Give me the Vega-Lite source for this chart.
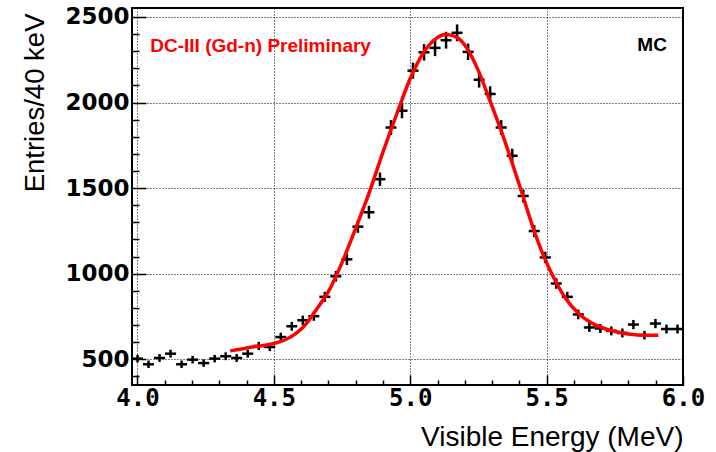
{
  "$schema": "https://vega.github.io/schema/vega-lite/v6.json",
  "width": 551,
  "height": 377,
  "autosize": "none",
  "padding": {"left": 132, "top": 8, "right": 33, "bottom": 67},
  "background": "white",
  "config": {
    "view": {"stroke": "black", "strokeWidth": 2},
    "axis": {
      "grid": true, "gridColor": "#000", "gridDash": [1, 2], "gridWidth": 1,
      "ticks": true, "tickColor": "black", "tickWidth": 1.5, "domain": false,
      "labelColor": "black", "labelFontWeight": "bold", "labelFlush": false, "labelOverlap": false,
      "titleFont": "Liberation Sans", "titleFontWeight": "normal", "titleColor": "black",
      "titleAnchor": "end", "titleAlign": "right", "titleBaseline": "alphabetic"
    },
    "axisX": {
      "labelFont": "DejaVu Sans Mono", "labelFontSize": 24, "labelPadding": 11, "tickSize": -6,
      "titleFontSize": 28, "titleX": 551, "titleY": 60
    },
    "axisY": {
      "labelFont": "DejaVu Sans", "labelFontSize": 23, "labelPadding": 17, "tickSize": -8,
      "titleFontSize": 27.5, "titleAngle": -90, "titleX": -89, "titleY": 5
    }
  },
  "datasets": {
    "hist": [
      {"x": 4.0002, "x0": 3.9800, "x1": 4.0204, "n": 504, "lo": 482, "hi": 526},
      {"x": 4.0406, "x0": 4.0204, "x1": 4.0608, "n": 471, "lo": 449, "hi": 493},
      {"x": 4.0810, "x0": 4.0608, "x1": 4.1012, "n": 508, "lo": 485, "hi": 531},
      {"x": 4.1214, "x0": 4.1012, "x1": 4.1416, "n": 533, "lo": 510, "hi": 556},
      {"x": 4.1618, "x0": 4.1416, "x1": 4.1820, "n": 471, "lo": 449, "hi": 493},
      {"x": 4.2022, "x0": 4.1820, "x1": 4.2224, "n": 498, "lo": 476, "hi": 520},
      {"x": 4.2426, "x0": 4.2224, "x1": 4.2628, "n": 478, "lo": 456, "hi": 500},
      {"x": 4.2830, "x0": 4.2628, "x1": 4.3032, "n": 504, "lo": 482, "hi": 526},
      {"x": 4.3234, "x0": 4.3032, "x1": 4.3436, "n": 518, "lo": 495, "hi": 541},
      {"x": 4.3638, "x0": 4.3436, "x1": 4.3840, "n": 508, "lo": 485, "hi": 531},
      {"x": 4.4042, "x0": 4.3840, "x1": 4.4244, "n": 533, "lo": 510, "hi": 556},
      {"x": 4.4446, "x0": 4.4244, "x1": 4.4648, "n": 578, "lo": 554, "hi": 602},
      {"x": 4.4850, "x0": 4.4648, "x1": 4.5052, "n": 572, "lo": 548, "hi": 596},
      {"x": 4.5254, "x0": 4.5052, "x1": 4.5456, "n": 630, "lo": 605, "hi": 655},
      {"x": 4.5658, "x0": 4.5456, "x1": 4.5860, "n": 693, "lo": 667, "hi": 719},
      {"x": 4.6062, "x0": 4.5860, "x1": 4.6264, "n": 728, "lo": 701, "hi": 755},
      {"x": 4.6466, "x0": 4.6264, "x1": 4.6668, "n": 752, "lo": 725, "hi": 779},
      {"x": 4.6870, "x0": 4.6668, "x1": 4.7072, "n": 865, "lo": 836, "hi": 894},
      {"x": 4.7274, "x0": 4.7072, "x1": 4.7476, "n": 985, "lo": 954, "hi": 1016},
      {"x": 4.7678, "x0": 4.7476, "x1": 4.7880, "n": 1084, "lo": 1051, "hi": 1117},
      {"x": 4.8082, "x0": 4.7880, "x1": 4.8284, "n": 1275, "lo": 1239, "hi": 1311},
      {"x": 4.8486, "x0": 4.8284, "x1": 4.8688, "n": 1359, "lo": 1322, "hi": 1396},
      {"x": 4.8890, "x0": 4.8688, "x1": 4.9092, "n": 1552, "lo": 1513, "hi": 1591},
      {"x": 4.9294, "x0": 4.9092, "x1": 4.9496, "n": 1854, "lo": 1811, "hi": 1897},
      {"x": 4.9698, "x0": 4.9496, "x1": 4.9900, "n": 1952, "lo": 1908, "hi": 1996},
      {"x": 5.0102, "x0": 4.9900, "x1": 5.0304, "n": 2186, "lo": 2139, "hi": 2233},
      {"x": 5.0506, "x0": 5.0304, "x1": 5.0708, "n": 2293, "lo": 2245, "hi": 2341},
      {"x": 5.0910, "x0": 5.0708, "x1": 5.1112, "n": 2319, "lo": 2271, "hi": 2367},
      {"x": 5.1314, "x0": 5.1112, "x1": 5.1516, "n": 2364, "lo": 2315, "hi": 2413},
      {"x": 5.1718, "x0": 5.1516, "x1": 5.1920, "n": 2407, "lo": 2358, "hi": 2456},
      {"x": 5.2122, "x0": 5.1920, "x1": 5.2324, "n": 2296, "lo": 2248, "hi": 2344},
      {"x": 5.2526, "x0": 5.2324, "x1": 5.2728, "n": 2133, "lo": 2087, "hi": 2179},
      {"x": 5.2930, "x0": 5.2728, "x1": 5.3132, "n": 2050, "lo": 2005, "hi": 2095},
      {"x": 5.3334, "x0": 5.3132, "x1": 5.3536, "n": 1854, "lo": 1811, "hi": 1897},
      {"x": 5.3738, "x0": 5.3536, "x1": 5.3940, "n": 1689, "lo": 1648, "hi": 1730},
      {"x": 5.4142, "x0": 5.3940, "x1": 5.4344, "n": 1454, "lo": 1416, "hi": 1492},
      {"x": 5.4546, "x0": 5.4344, "x1": 5.4748, "n": 1249, "lo": 1214, "hi": 1284},
      {"x": 5.4950, "x0": 5.4748, "x1": 5.5152, "n": 1095, "lo": 1062, "hi": 1128},
      {"x": 5.5354, "x0": 5.5152, "x1": 5.5556, "n": 943, "lo": 912, "hi": 974},
      {"x": 5.5758, "x0": 5.5556, "x1": 5.5960, "n": 865, "lo": 836, "hi": 894},
      {"x": 5.6162, "x0": 5.5960, "x1": 5.6364, "n": 762, "lo": 734, "hi": 790},
      {"x": 5.6566, "x0": 5.6364, "x1": 5.6768, "n": 686, "lo": 660, "hi": 712},
      {"x": 5.6970, "x0": 5.6768, "x1": 5.7172, "n": 680, "lo": 654, "hi": 706},
      {"x": 5.7374, "x0": 5.7172, "x1": 5.7576, "n": 666, "lo": 640, "hi": 692},
      {"x": 5.7778, "x0": 5.7576, "x1": 5.7980, "n": 654, "lo": 628, "hi": 680},
      {"x": 5.8182, "x0": 5.7980, "x1": 5.8384, "n": 703, "lo": 676, "hi": 730},
      {"x": 5.8586, "x0": 5.8384, "x1": 5.8788, "n": 641, "lo": 616, "hi": 666},
      {"x": 5.8990, "x0": 5.8788, "x1": 5.9192, "n": 709, "lo": 682, "hi": 736},
      {"x": 5.9394, "x0": 5.9192, "x1": 5.9596, "n": 677, "lo": 651, "hi": 703},
      {"x": 5.9798, "x0": 5.9596, "x1": 6.0000, "n": 677, "lo": 651, "hi": 703}
    ],
    "fit": [
      {"e": 4.34, "f": 549}, {"e": 4.38, "f": 560}, {"e": 4.42, "f": 572}, {"e": 4.46, "f": 580},
      {"e": 4.50, "f": 592}, {"e": 4.54, "f": 613}, {"e": 4.58, "f": 650}, {"e": 4.62, "f": 710},
      {"e": 4.66, "f": 800}, {"e": 4.70, "f": 895}, {"e": 4.75, "f": 1065}, {"e": 4.80, "f": 1265},
      {"e": 4.85, "f": 1475}, {"e": 4.90, "f": 1710}, {"e": 4.95, "f": 1930}, {"e": 5.00, "f": 2140},
      {"e": 5.05, "f": 2295}, {"e": 5.09, "f": 2368}, {"e": 5.13, "f": 2397}, {"e": 5.17, "f": 2382},
      {"e": 5.21, "f": 2312}, {"e": 5.25, "f": 2185}, {"e": 5.29, "f": 2020}, {"e": 5.33, "f": 1850},
      {"e": 5.37, "f": 1665}, {"e": 5.41, "f": 1470}, {"e": 5.45, "f": 1270}, {"e": 5.49, "f": 1100},
      {"e": 5.53, "f": 965}, {"e": 5.57, "f": 855}, {"e": 5.62, "f": 763}, {"e": 5.68, "f": 700},
      {"e": 5.74, "f": 667}, {"e": 5.80, "f": 648}, {"e": 5.86, "f": 640}, {"e": 5.91, "f": 641}
    ]
  },
  "layer": [
    {
      "data": {"name": "hist"},
      "mark": {"type": "rule", "color": "black", "strokeWidth": 2.5},
      "encoding": {
        "x": {
          "field": "x0", "type": "quantitative",
          "scale": {"domain": [3.98, 6.0], "nice": false, "zero": false},
          "axis": {
            "title": "Visible Energy (MeV)",
            "values": [4.0, 4.1, 4.2, 4.3, 4.4, 4.5, 4.6, 4.7, 4.8, 4.9, 5.0, 5.1, 5.2, 5.3, 5.4, 5.5, 5.6, 5.7, 5.8, 5.9, 6.0],
            "labelExpr": "abs(datum.value*2 - round(datum.value*2)) < 0.001 ? format(datum.value, '.1f') : ''",
            "gridOpacity": {"condition": {"test": "abs(datum.value*2 - round(datum.value*2)) < 0.001", "value": 1}, "value": 0},
            "tickSize": {"condition": {"test": "abs(datum.value*2 - round(datum.value*2)) < 0.001", "value": -10}, "value": -5}
          }
        },
        "x2": {"field": "x1"},
        "y": {
          "field": "n", "type": "quantitative",
          "scale": {"domain": [350, 2552], "nice": false, "zero": false},
          "axis": {
            "title": "Entries/40 keV",
            "values": [400, 500, 600, 700, 800, 900, 1000, 1100, 1200, 1300, 1400, 1500, 1600, 1700, 1800, 1900, 2000, 2100, 2200, 2300, 2400, 2500],
            "labelExpr": "datum.value % 500 === 0 ? format(datum.value, 'd') : ''",
            "gridOpacity": {"condition": {"test": "datum.value % 500 === 0", "value": 1}, "value": 0},
            "tickSize": {"condition": {"test": "datum.value % 500 === 0", "value": -14}, "value": -7}
          }
        }
      }
    },
    {
      "data": {"name": "hist"},
      "mark": {"type": "rule", "color": "black", "strokeWidth": 2.5},
      "encoding": {
        "x": {
          "field": "x", "type": "quantitative",
          "axis": {
            "title": "Visible Energy (MeV)",
            "values": [4.0, 4.1, 4.2, 4.3, 4.4, 4.5, 4.6, 4.7, 4.8, 4.9, 5.0, 5.1, 5.2, 5.3, 5.4, 5.5, 5.6, 5.7, 5.8, 5.9, 6.0],
            "labelExpr": "abs(datum.value*2 - round(datum.value*2)) < 0.001 ? format(datum.value, '.1f') : ''",
            "gridOpacity": {"condition": {"test": "abs(datum.value*2 - round(datum.value*2)) < 0.001", "value": 1}, "value": 0},
            "tickSize": {"condition": {"test": "abs(datum.value*2 - round(datum.value*2)) < 0.001", "value": -10}, "value": -5}
          }
        },
        "y": {
          "field": "lo", "type": "quantitative",
          "axis": {
            "title": "Entries/40 keV",
            "values": [400, 500, 600, 700, 800, 900, 1000, 1100, 1200, 1300, 1400, 1500, 1600, 1700, 1800, 1900, 2000, 2100, 2200, 2300, 2400, 2500],
            "labelExpr": "datum.value % 500 === 0 ? format(datum.value, 'd') : ''",
            "gridOpacity": {"condition": {"test": "datum.value % 500 === 0", "value": 1}, "value": 0},
            "tickSize": {"condition": {"test": "datum.value % 500 === 0", "value": -14}, "value": -7}
          }
        },
        "y2": {"field": "hi"}
      }
    },
    {
      "data": {"name": "fit"},
      "mark": {"type": "line", "color": "#ff0000", "strokeWidth": 3.5, "interpolate": "monotone"},
      "encoding": {
        "x": {
          "field": "e", "type": "quantitative",
          "axis": {
            "title": "Visible Energy (MeV)",
            "values": [4.0, 4.1, 4.2, 4.3, 4.4, 4.5, 4.6, 4.7, 4.8, 4.9, 5.0, 5.1, 5.2, 5.3, 5.4, 5.5, 5.6, 5.7, 5.8, 5.9, 6.0],
            "labelExpr": "abs(datum.value*2 - round(datum.value*2)) < 0.001 ? format(datum.value, '.1f') : ''",
            "gridOpacity": {"condition": {"test": "abs(datum.value*2 - round(datum.value*2)) < 0.001", "value": 1}, "value": 0},
            "tickSize": {"condition": {"test": "abs(datum.value*2 - round(datum.value*2)) < 0.001", "value": -10}, "value": -5}
          }
        },
        "y": {
          "field": "f", "type": "quantitative",
          "axis": {
            "title": "Entries/40 keV",
            "values": [400, 500, 600, 700, 800, 900, 1000, 1100, 1200, 1300, 1400, 1500, 1600, 1700, 1800, 1900, 2000, 2100, 2200, 2300, 2400, 2500],
            "labelExpr": "datum.value % 500 === 0 ? format(datum.value, 'd') : ''",
            "gridOpacity": {"condition": {"test": "datum.value % 500 === 0", "value": 1}, "value": 0},
            "tickSize": {"condition": {"test": "datum.value % 500 === 0", "value": -14}, "value": -7}
          }
        }
      }
    },
    {
      "data": {"values": [{"label": "DC-III (Gd-n) Preliminary", "px": 4.047, "py": 2293}]},
      "mark": {"type": "text", "color": "#ff0000", "font": "Liberation Sans", "fontWeight": "bold", "fontSize": 19, "align": "left", "baseline": "alphabetic"},
      "encoding": {
        "text": {"field": "label"},
        "x": {
          "field": "px", "type": "quantitative",
          "axis": {
            "title": "Visible Energy (MeV)",
            "values": [4.0, 4.1, 4.2, 4.3, 4.4, 4.5, 4.6, 4.7, 4.8, 4.9, 5.0, 5.1, 5.2, 5.3, 5.4, 5.5, 5.6, 5.7, 5.8, 5.9, 6.0],
            "labelExpr": "abs(datum.value*2 - round(datum.value*2)) < 0.001 ? format(datum.value, '.1f') : ''",
            "gridOpacity": {"condition": {"test": "abs(datum.value*2 - round(datum.value*2)) < 0.001", "value": 1}, "value": 0},
            "tickSize": {"condition": {"test": "abs(datum.value*2 - round(datum.value*2)) < 0.001", "value": -10}, "value": -5}
          }
        },
        "y": {
          "field": "py", "type": "quantitative",
          "axis": {
            "title": "Entries/40 keV",
            "values": [400, 500, 600, 700, 800, 900, 1000, 1100, 1200, 1300, 1400, 1500, 1600, 1700, 1800, 1900, 2000, 2100, 2200, 2300, 2400, 2500],
            "labelExpr": "datum.value % 500 === 0 ? format(datum.value, 'd') : ''",
            "gridOpacity": {"condition": {"test": "datum.value % 500 === 0", "value": 1}, "value": 0},
            "tickSize": {"condition": {"test": "datum.value % 500 === 0", "value": -14}, "value": -7}
          }
        }
      }
    },
    {
      "data": {"values": [{"label": "MC", "px": 5.941, "py": 2299}]},
      "mark": {"type": "text", "color": "black", "font": "Liberation Sans", "fontWeight": "bold", "fontSize": 19, "align": "right", "baseline": "alphabetic"},
      "encoding": {
        "text": {"field": "label"},
        "x": {
          "field": "px", "type": "quantitative",
          "axis": {
            "title": "Visible Energy (MeV)",
            "values": [4.0, 4.1, 4.2, 4.3, 4.4, 4.5, 4.6, 4.7, 4.8, 4.9, 5.0, 5.1, 5.2, 5.3, 5.4, 5.5, 5.6, 5.7, 5.8, 5.9, 6.0],
            "labelExpr": "abs(datum.value*2 - round(datum.value*2)) < 0.001 ? format(datum.value, '.1f') : ''",
            "gridOpacity": {"condition": {"test": "abs(datum.value*2 - round(datum.value*2)) < 0.001", "value": 1}, "value": 0},
            "tickSize": {"condition": {"test": "abs(datum.value*2 - round(datum.value*2)) < 0.001", "value": -10}, "value": -5}
          }
        },
        "y": {
          "field": "py", "type": "quantitative",
          "axis": {
            "title": "Entries/40 keV",
            "values": [400, 500, 600, 700, 800, 900, 1000, 1100, 1200, 1300, 1400, 1500, 1600, 1700, 1800, 1900, 2000, 2100, 2200, 2300, 2400, 2500],
            "labelExpr": "datum.value % 500 === 0 ? format(datum.value, 'd') : ''",
            "gridOpacity": {"condition": {"test": "datum.value % 500 === 0", "value": 1}, "value": 0},
            "tickSize": {"condition": {"test": "datum.value % 500 === 0", "value": -14}, "value": -7}
          }
        }
      }
    }
  ]
}
